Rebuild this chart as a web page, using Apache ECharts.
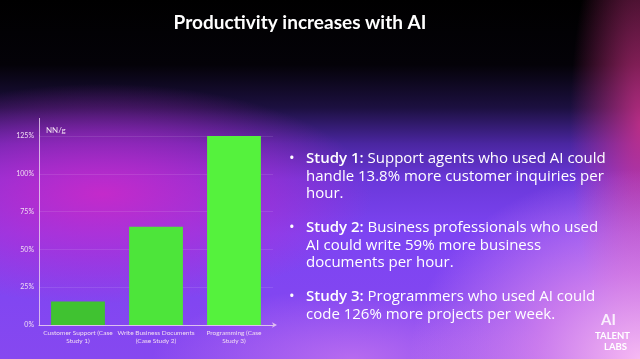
<!DOCTYPE html>
<html><head><meta charset="utf-8">
<script src="https://cdn.jsdelivr.net/npm/echarts@6/dist/echarts.min.js"></script>
<style>
html,body{margin:0;padding:0;width:640px;height:359px;overflow:hidden;}
#bg{position:absolute;left:0;top:0;width:640px;height:359px;
background:
 radial-gradient(ellipse 230px 190px at 100% 100%, rgba(252,190,242,0.95) 0%, rgba(238,150,236,0.65) 45%, rgba(220,120,230,0) 100%),
 radial-gradient(ellipse 70px 230px at 100% 35%, rgba(215,50,140,0.8) 0%, rgba(200,40,140,0) 100%),
 radial-gradient(ellipse 270px 110px at 16% 54%, rgba(205,40,200,0.9) 0%, rgba(190,40,205,0.5) 55%, rgba(180,40,210,0) 100%),
 radial-gradient(ellipse 200px 70px at 55% 100%, rgba(215,130,240,0.6) 0%, rgba(200,110,235,0) 100%),
 linear-gradient(to bottom, #000 0%, #040208 18%, #1c1040 30%, #4a26a0 40%, #6a38da 50%, #7d44f2 65%, #8648f0 100%);}
#c{position:absolute;left:0;top:0;width:640px;height:359px;}
</style></head>
<body><div id="bg"></div><div id="c"></div>
<script>
const categories = ['Customer Support (Case\nStudy 1)', 'Write Business Documents\n(Case Study 2)', 'Programming (Case\nStudy 3)'];
const values = [15.5, 65, 126];
const barColors = ['#40c231', '#4de53a', '#55f23d'];
const yTicks = [0, 25, 50, 75, 100, 125];
const titleText = 'Productivity increases with AI';
const bullets = [
  ['Study 1:', ' Support agents who used AI could', 'handle 13.8% more customer inquiries per', 'hour.'],
  ['Study 2:', ' Business professionals who used', 'AI could write 59% more business', 'documents per hour.'],
  ['Study 3:', ' Programmers who used AI could', 'code 126% more projects per week.']
];

const chart = echarts.init(document.getElementById('c'), null, {renderer: 'canvas'});
const FONT = 'Lato, "Open Sans", sans-serif';
const BFONT = '"Open Sans", sans-serif';
const graphics = [
  {type: 'text', x: 300, y: 23, style: {text: titleText, fill: '#fff', font: 'bold 19px Lato, sans-serif', align: 'center', verticalAlign: 'middle'}},
  {type: 'line', shape: {x1: 39.5, y1: 118, x2: 39.5, y2: 136}, style: {stroke: 'rgba(235,210,240,0.8)', lineWidth: 1}},
  {type: 'text', left: 46, top: 126, style: {text: 'NN/g', fill: '#f0dff0', font: '8px ' + FONT}}
];
const tops = [150, 219, 288];
bullets.forEach((b, i) => {
  graphics.push({type: 'text', left: 289, top: tops[i] + 1, style: {text: '•', fill: '#fff', font: '15px ' + BFONT}});
  let rich = '{b|' + b[0] + '}{n|' + b[1] + '}';
  for (let k = 2; k < b.length; k++) rich += '\n{n|' + b[k] + '}';
  graphics.push({type: 'text', left: 306, top: tops[i], style: {
    text: rich, lineHeight: 17.5,
    rich: {
      b: {font: '600 15px ' + BFONT, fill: '#fff', lineHeight: 17.5},
      n: {font: '15px ' + BFONT, fill: '#fff', lineHeight: 17.5}
    }}});
});
graphics.push({type: 'text', left: 601, top: 313, style: {text: 'AI', fill: 'rgba(255,255,255,0.85)', font: 'bold 15px ' + FONT}});
graphics.push({type: 'text', left: 595, top: 331, style: {text: 'TALENT', fill: '#fff', font: 'bold 9.5px ' + FONT}});
graphics.push({type: 'text', left: 604, top: 342, style: {text: 'LABS', fill: '#fff', font: 'bold 9.5px ' + FONT}});

chart.setOption({
  backgroundColor: 'transparent',
  animation: false,
  grid: {left: 39, right: 367, top: 136, bottom: 34, containLabel: false},
  xAxis: {
    type: 'category', data: categories,
    axisLine: {lineStyle: {color: 'rgba(235,210,240,0.85)', width: 1}, symbol: ['none', 'arrow'], symbolSize: [4, 5], symbolOffset: [0, 4]},
    axisTick: {show: false},
    axisLabel: {color: '#f0dcf2', fontSize: 6.5, fontFamily: FONT, lineHeight: 8, margin: 4, interval: 0}
  },
  yAxis: {
    type: 'value', min: 0, max: 125, interval: 25,
    axisLine: {show: true, lineStyle: {color: 'rgba(235,210,240,0.8)', width: 1}},
    axisTick: {show: false},
    axisLabel: {color: '#f0dcf2', fontSize: 7, fontFamily: FONT, margin: 5, formatter: v => yTicks.includes(v) ? v + '%' : ''},
    splitLine: {show: true, lineStyle: {color: 'rgba(255,255,255,0.1)', width: 1}}
  },
  series: [{
    type: 'bar', barWidth: '69%',
    data: values.map((v, i) => ({value: v, itemStyle: {color: barColors[i]}}))
  }],
  graphic: graphics
});
</script></body></html>
